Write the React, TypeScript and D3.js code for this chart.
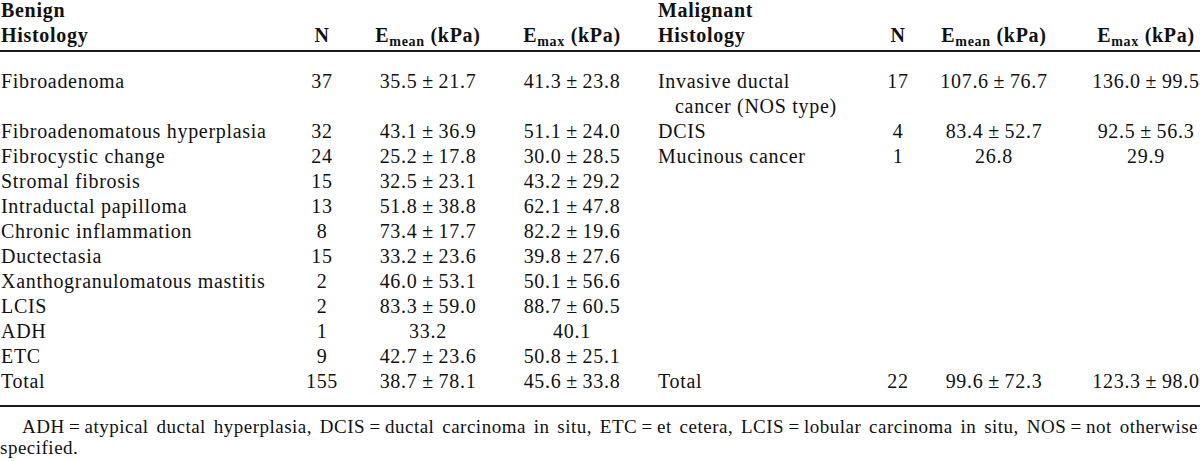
import { useEffect, useRef } from "react";
import * as d3 from "d3";

// benign side
const benignHistology = [
  "Fibroadenoma",
  "Fibroadenomatous hyperplasia",
  "Fibrocystic change",
  "Stromal fibrosis",
  "Intraductal papilloma",
  "Chronic inflammation",
  "Ductectasia",
  "Xanthogranulomatous mastitis",
  "LCIS",
  "ADH",
  "ETC",
];
const benignN = [37, 32, 24, 15, 13, 8, 15, 2, 2, 1, 9];
const benignEmean = [35.5, 43.1, 25.2, 32.5, 51.8, 73.4, 33.2, 46.0, 83.3, 33.2, 42.7];
const benignEmeanSd = [21.7, 36.9, 17.8, 23.1, 38.8, 17.7, 23.6, 53.1, 59.0, null, 23.6];
const benignEmax = [41.3, 51.1, 30.0, 43.2, 62.1, 82.2, 39.8, 50.1, 88.7, 40.1, 50.8];
const benignEmaxSd = [23.8, 24.0, 28.5, 29.2, 47.8, 19.6, 27.6, 56.6, 60.5, null, 25.1];

// malignant side (names can wrap onto a second line)
const malignantHistology = [["Invasive ductal", "cancer (NOS type)"], ["DCIS"], ["Mucinous cancer"]];
const malignantN = [17, 4, 1];
const malignantEmean = [107.6, 83.4, 26.8];
const malignantEmeanSd = [76.7, 52.7, null];
const malignantEmax = [136.0, 92.5, 29.9];
const malignantEmaxSd = [99.5, 56.3, null];

// totals: [benign, malignant]
const totalN = [155, 22];
const totalEmean = [38.7, 99.6];
const totalEmeanSd = [78.1, 72.3];
const totalEmax = [45.6, 123.3];
const totalEmaxSd = [33.8, 98.0];

const groupTitles = ["Benign", "Malignant"];
const footnoteLines = [
  "ADH\u2009=\u2009atypical ductal hyperplasia, DCIS\u2009=\u2009ductal carcinoma in situ, ETC\u2009=\u2009et cetera, LCIS\u2009=\u2009lobular carcinoma in situ, NOS\u2009=\u2009not otherwise",
  "specified.",
];

const W = 1200;
const H = 461;
const FONT = "'Liberation Serif', 'Times New Roman', serif";
const INK = "#111";

const fmt = (m: number, sd: number | null) =>
  sd == null ? m.toFixed(1) : `${m.toFixed(1)}\u2009±\u2009${sd.toFixed(1)}`;

export default function App() {
  const ref = useRef<SVGSVGElement>(null);

  useEffect(() => {
    if (!ref.current) return;
    const svg = d3.select(ref.current);
    svg.selectAll("*").remove();

    // column centres for each half of the table
    const cols = [
      { x0: 1, n: 322, emean: 428, emax: 572 },
      { x0: 658, n: 898, emean: 994, emax: 1146 },
    ];

    // each table row takes as many lines as its tallest cell
    const nRows = Math.max(benignHistology.length, malignantHistology.length);
    const rowLines = d3.range(nRows).map((i) => Math.max(1, malignantHistology[i]?.length ?? 1));
    const rowStart = rowLines.map((_, i) => d3.sum(rowLines.slice(0, i)));
    const totalLine = d3.sum(rowLines);

    const lineY = d3.scaleLinear().domain([0, totalLine]).range([88, 388]);

    const g = svg.append("g").attr("font-family", FONT).attr("fill", INK);

    const body = (x: number, y: number, txt: string, anchor = "start") =>
      g.append("text")
        .attr("x", x)
        .attr("y", y)
        .attr("text-anchor", anchor)
        .attr("font-size", 20)
        .attr("letter-spacing", 0.7)
        .text(txt);

    // header
    cols.forEach((c, s) => {
      const bold = (x: number, y: number, txt: string, anchor = "start") =>
        body(x, y, txt, anchor).attr("font-weight", "bold");
      bold(c.x0, 17, groupTitles[s]);
      bold(c.x0, 42, "Histology");
      bold(c.n, 42, "N", "middle");
      [["emean", "mean"], ["emax", "max"]].forEach(([key, sub]) => {
        const t = g.append("text")
          .attr("x", (c as any)[key])
          .attr("y", 42)
          .attr("text-anchor", "middle")
          .attr("font-size", 20)
          .attr("font-weight", "bold")
          .attr("letter-spacing", 0.7);
        t.append("tspan").text("E");
        t.append("tspan").attr("font-size", 14).attr("dy", 4).text(sub);
        t.append("tspan").attr("dy", -4).text(" (kPa)");
      });
    });

    // benign rows
    benignHistology.forEach((name, i) => {
      const y = lineY(rowStart[i]);
      const c = cols[0];
      body(c.x0, y, name);
      body(c.n, y, String(benignN[i]), "middle");
      body(c.emean, y, fmt(benignEmean[i], benignEmeanSd[i]), "middle");
      body(c.emax, y, fmt(benignEmax[i], benignEmaxSd[i]), "middle");
    });

    // malignant rows
    malignantHistology.forEach((lines, i) => {
      const y = lineY(rowStart[i]);
      const c = cols[1];
      lines.forEach((ln, k) => body(c.x0 + (k > 0 ? 17 : 0), lineY(rowStart[i] + k), ln));
      body(c.n, y, String(malignantN[i]), "middle");
      body(c.emean, y, fmt(malignantEmean[i], malignantEmeanSd[i]), "middle");
      body(c.emax, y, fmt(malignantEmax[i], malignantEmaxSd[i]), "middle");
    });

    // totals
    cols.forEach((c, s) => {
      const y = lineY(totalLine);
      body(c.x0, y, "Total");
      body(c.n, y, String(totalN[s]), "middle");
      body(c.emean, y, fmt(totalEmean[s], totalEmeanSd[s]), "middle");
      body(c.emax, y, fmt(totalEmax[s], totalEmaxSd[s]), "middle");
    });

    // rules
    [51, 406].forEach((y) => {
      svg.append("line")
        .attr("x1", 0).attr("x2", W)
        .attr("y1", y).attr("y2", y)
        .attr("stroke", "#1a1a1a")
        .attr("stroke-width", 2);
    });

    // footnote, first line justified by stretching the word gaps
    const fn1 = g.append("text")
      .attr("x", 22)
      .attr("y", 433)
      .attr("font-size", 19)
      .attr("letter-spacing", 0.5)
      .text(footnoteLines[0]);
    const node = fn1.node() as SVGTextElement;
    const gaps = footnoteLines[0].split(" ").length - 1;
    const extra = (W - 2 - 22 - node.getComputedTextLength()) / gaps;
    fn1.attr("word-spacing", Math.max(0, extra));

    g.append("text")
      .attr("x", 0)
      .attr("y", 454)
      .attr("font-size", 19)
      .attr("letter-spacing", 0.5)
      .text(footnoteLines[1]);
  }, []);

  return (
    <svg
      ref={ref}
      width={W}
      height={H}
      viewBox={`0 0 ${W} ${H}`}
      style={{ position: "absolute", left: 0, top: 0, background: "#fff" }}
    />
  );
}
